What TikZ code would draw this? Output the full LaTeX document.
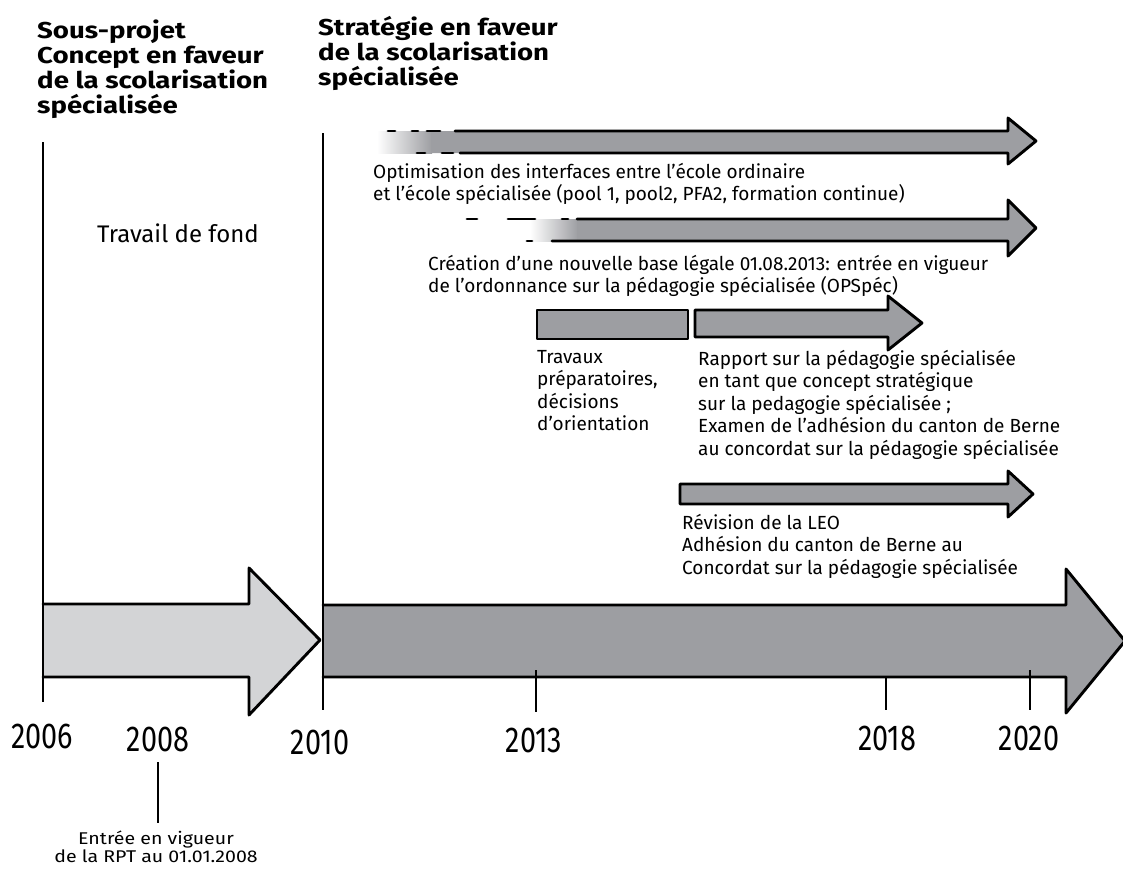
\documentclass[tikz,border=0pt]{standalone}
\usepackage{fontspec}
\setmainfont{Fira Sans}
\newfontfamily\titlefam[FakeStretch=1.2]{Fira Sans}
\newfontfamily\yearfam[FakeStretch=0.8]{Fira Sans}
\newfontfamily\notefam[FakeStretch=1.15]{Fira Sans}
\begin{document}
\begin{tikzpicture}[x=1pt,y=-1pt,
  outl/.style={line width=2.9pt, line join=round, line cap=round, black},
  vline/.style={line width=2.6pt, black},
  titletext/.style={anchor=north west, inner sep=0pt, align=left, font=\titlefam\fontsize{23}{25}\selectfont\bfseries},
  bodytext/.style={anchor=north west, inner sep=0pt, align=left, font=\fontsize{19}{22.5}\selectfont},
  yeartext/.style={anchor=center, inner sep=0pt, font=\yearfam\fontsize{36}{38}\selectfont},
  notetext/.style={anchor=north, inner sep=0pt, align=center, font=\notefam\fontsize{17}{18}\selectfont}]
\definecolor{lightg}{HTML}{D3D4D6}
\definecolor{midg}{HTML}{9D9EA2}
\useasboundingbox (0,0) rectangle (1123,868);
\fill[white] (0,0) rectangle (1123,868);

% titles
\node[titletext] (t1) at (37,20) {Sous-projet\\Concept en faveur\\de la scolarisation\\spécialisée};
\node[titletext] (t2) at (318,16) {Stratégie en faveur\\de la scolarisation\\spécialisée};

% big light arrow
\fill[lightg] (43,604) -- (249,604) -- (249,568) -- (320,640) -- (249,715) -- (249,677) -- (43,677) -- cycle;
\draw[outl] (43,604) -- (249,604) -- (249,568) -- (320,640) -- (249,715) -- (249,677) -- (43,677);

% big dark arrow
\fill[midg] (323,605) -- (1066,605) -- (1066,569) -- (1125,641) -- (1066,713) -- (1066,677) -- (323,677) -- cycle;
\draw[outl] (323,605) -- (1066,605) -- (1066,569) -- (1125,641) -- (1066,713) -- (1066,677) -- (323,677);

% vertical lines
\draw[vline] (43,142) -- (43,702);
\draw[vline] (323,133) -- (323,710);

% ticks
\draw[vline] (536,670) -- (536,712);
\draw[vline] (886,677) -- (886,710);
\draw[vline] (1030,670) -- (1030,710);

% arrow 1 (optimisation)
\shade[left color=white, right color=midg] (377,131) rectangle (432,153);
\fill[midg] (431,131) -- (1008,131) -- (1008,118) -- (1036,141) -- (1008,164) -- (1008,153) -- (431,153) -- cycle;
\draw[outl] (455,131) -- (1008,131) -- (1008,118) -- (1036,141) -- (1008,164) -- (1008,153) -- (460,153);
\draw[outl] (388,131) -- (395,131);
\draw[outl] (412,131) -- (418,131);
\draw[outl] (427,131) -- (440,131);
\draw[outl] (417,153) -- (425,153);
\draw[outl] (442,153) -- (453,153);

% arrow 2 (création)
\shade[left color=white, right color=midg] (530,219) rectangle (578,241);
\fill[midg] (577,219) -- (1008,219) -- (1008,200) -- (1036,228) -- (1008,256) -- (1008,241) -- (577,241) -- cycle;
\draw[outl] (577,219) -- (1008,219) -- (1008,200) -- (1036,228) -- (1008,256) -- (1008,241) -- (552,241);
\draw[outl] (467,219) -- (477,219);
\draw[outl] (508,219) -- (535,219);
\draw[outl] (562,219) -- (568,219);
\draw[outl] (527,241) -- (532,241);

% box travaux
\draw[outl, fill=midg] (537,310) rectangle (688,339);

% arrow 3 (rapport)
\draw[outl, fill=midg] (695,310) -- (888,310) -- (888,296) -- (922,323) -- (888,350) -- (888,337) -- (695,337) -- cycle;

% arrow 4 (révision)
\draw[outl, fill=midg] (680,484) -- (1008,484) -- (1008,471) -- (1033,494) -- (1008,517) -- (1008,504) -- (680,504) -- cycle;

% body texts
\node[bodytext] (opt) at (373,163) {Optimisation des interfaces entre l'école ordinaire\\et l'école spécialisée (pool 1, pool2, PFA2, formation continue)};
\node[bodytext] (crea) at (428,255) {Création d'une nouvelle base légale 01.08.2013: entrée en vigueur\\de l'ordonnance sur la pédagogie spécialisée (OPSpéc)};
\node[bodytext] (trav) at (537,350) {Travaux\\préparatoires,\\décisions\\d'orientation};
\node[bodytext] (rapp) at (698,350) {Rapport sur la pédagogie spécialisée\\en tant que concept stratégique\\sur la pedagogie spécialisée ;\\Examen de l'adhésion du canton de Berne\\au concordat sur la pédagogie spécialisée};
\node[bodytext] (revi) at (682,514) {Révision de la LEO\\Adhésion du canton de Berne au\\Concordat sur la pédagogie spécialisée};
\node[bodytext, font=\fontsize{24}{26}\selectfont] (fond) at (97,224) {Travail de fond};

% years
\node[yeartext] (y2006) at (42,736) {2006};
\node[yeartext] (y2008) at (158,739) {2008};
\node[yeartext] (y2010) at (320,742) {2010};
\node[yeartext] (y2013) at (534,740) {2013};
\node[yeartext] (y2018) at (887,738) {2018};
\node[yeartext] (y2020) at (1029,738) {2020};

% note
\node[notetext] (note) at (156,831) {Entrée en vigueur\\de la RPT au 01.01.2008};
\draw[vline] (y2008.south |- 0,762) -- (y2008.south |- 0,823);
\end{tikzpicture}
\end{document}
